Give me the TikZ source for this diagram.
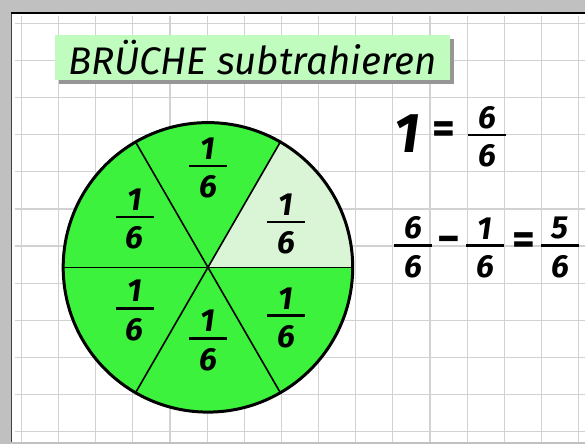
\documentclass[tikz,border=0pt]{standalone}
\usepackage{fontspec}
\setmainfont{Fira Sans}
\usetikzlibrary{shadows}
\definecolor{rahmengrau}{RGB}{192,192,192}
\definecolor{gitter}{RGB}{210,210,210}
\definecolor{tafelgruen}{RGB}{60,242,60}
\definecolor{blassgruen}{RGB}{217,245,213}
\definecolor{titelgruen}{RGB}{192,252,190}
\definecolor{schatten}{RGB}{150,150,150}

% Bruch mit dickem Strich
\newcommand\bruch[2]{\vbox{\hbox to 38pt{\hss#1\hss}\kern5pt\hrule height2.7pt\kern8.5pt\hbox to 38pt{\hss#2\hss}}}

\begin{document}
\begin{tikzpicture}[x=1pt,y=-1pt]
  \tikzstyle{gitterlinie}=[gitter,line width=1.2pt]
  \tikzstyle{titel}=[fill=titelgruen,minimum width=396pt,minimum height=45pt,inner sep=0pt,
    font=\fontsize{38.5}{40}\selectfont\itshape,
    drop shadow={shadow xshift=4pt,shadow yshift=-4pt,fill=schatten,opacity=1}]
  \tikzstyle{zahl}=[inner sep=0pt,font=\fontsize{32}{34}\selectfont\bfseries\itshape]
  \tikzstyle{zeichen}=[inner sep=0pt,font=\fontsize{44}{46}\selectfont\bfseries]
  \tikzstyle{kreis}=[line width=3pt]
  \tikzstyle{teil}=[line width=1.6pt]

  % Rahmen und Karopapier
  \fill[rahmengrau] (0,0) rectangle (586,445);
  \fill[white] (12.5,13.5) rectangle (586,442.5);
  \foreach \i in {0,...,15}
    \draw[gitterlinie] ({21.5+37.2*\i},16) -- ({21.5+37.2*\i},442.5);
  \foreach \j in {0,...,11}
    \draw[gitterlinie] (15,{23.3+37.2*\j}) -- (586,{23.3+37.2*\j});
  \draw[black!75,line width=1pt] (12,442.5) -- (12,13.5);
  \draw[black,line width=2pt] (11.5,13.5) -- (586,13.5);

  \node[titel] (titel) at (253,57.5) {BRÜCHE subtrahieren};

  % Kreis in Sechstel geteilt
  \coordinate (mitte) at (208.3,267.8);
  \fill[tafelgruen] (mitte) circle[radius=145];
  \fill[blassgruen] (mitte) -- ++(0:145) arc[start angle=0,end angle=-60,radius=145] -- cycle;
  \foreach \w in {0,60,120}
    \draw[teil] (mitte) -- ++(\w:145) (mitte) -- ++(\w+180:145);
  \draw[kreis] (mitte) circle[radius=145];

  \node[zahl] (s1) at (208.3,168.5) {\bruch{1}{6}};
  \node[zahl] (s2) at (135,219.5)   {\bruch{1}{6}};
  \node[zahl] (s3) at (286.7,224.5) {\bruch{1}{6}};
  \node[zahl] (s4) at (135,311)     {\bruch{1}{6}};
  \node[zahl] (s5) at (208.3,341)   {\bruch{1}{6}};
  \node[zahl] (s6) at (286.7,318.5) {\bruch{1}{6}};

  % Rechnung rechts
  \node[zahl,font=\fontsize{56}{58}\selectfont\bfseries\itshape] (eins) at (407.5,134) {1};
  \node[zeichen] (gl1) at (444.5,133) {=};
  \node[zahl] (r1) at (488,137) {\bruch{6}{6}};

  \node[zahl] (a1) at (414,248) {\bruch{6}{6}};
  \node[zeichen] (minus) at (450,245) {−};
  \node[zahl] (a2) at (486,248) {\bruch{1}{6}};
  \node[zeichen] (gl2) at (524.5,244) {=};
  \node[zahl] (a3) at (561,248) {\bruch{5}{6}};
\end{tikzpicture}
\end{document}
